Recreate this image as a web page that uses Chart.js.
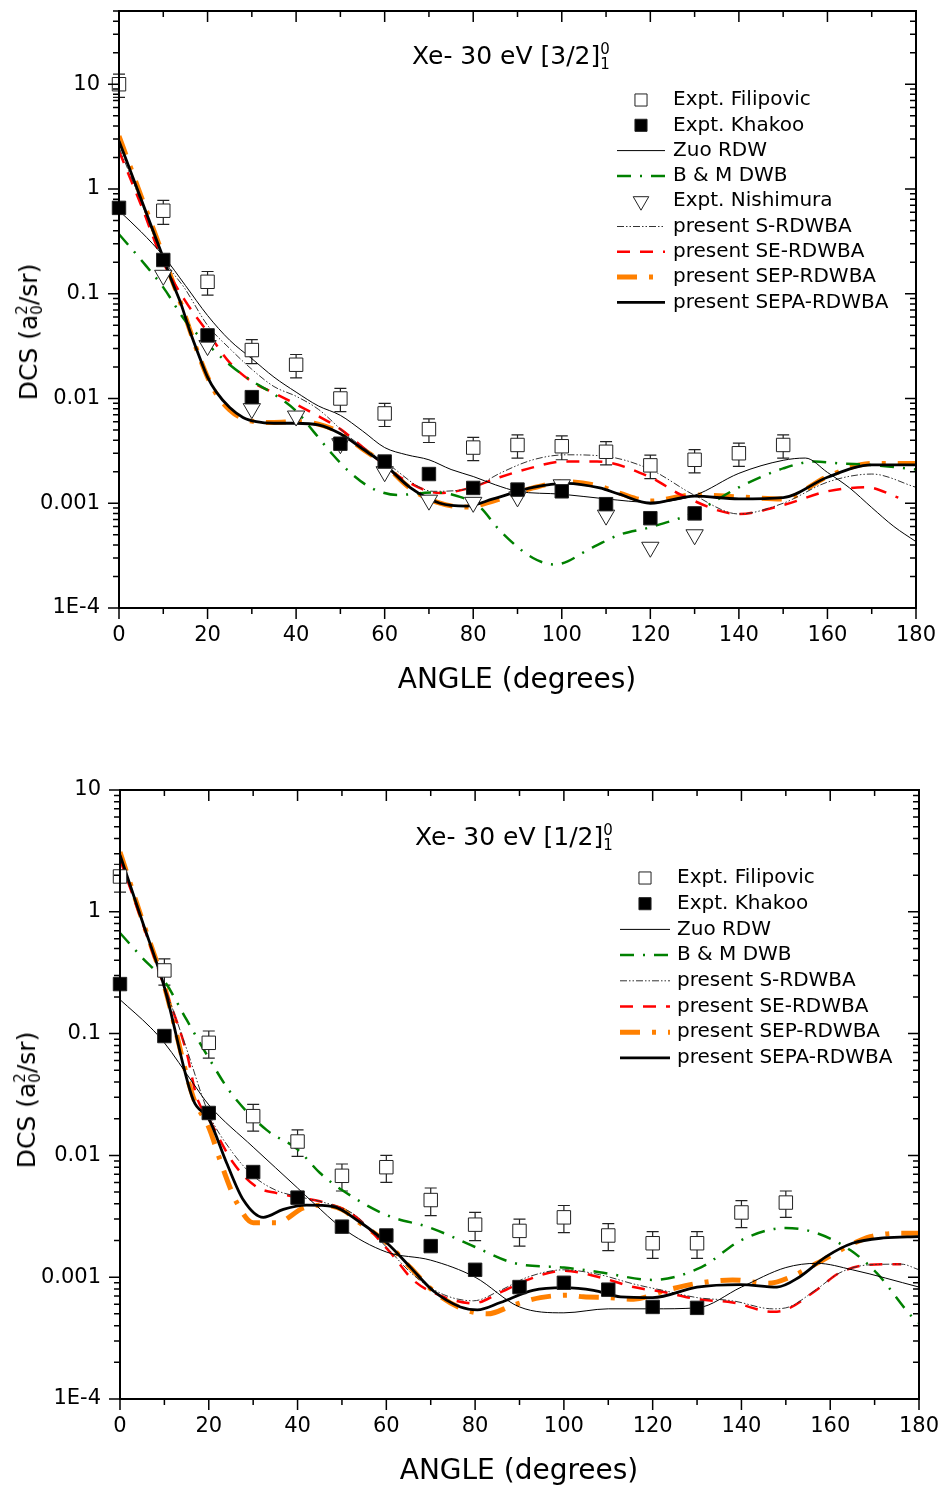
<!DOCTYPE html>
<html>
<head>
<meta charset="utf-8">
<script src="https://cdn.jsdelivr.net/npm/chart.js@4.4.1/dist/chart.umd.min.js"></script>
<style>
body { margin:0; background:#fff; width:940px; height:1487px; position:relative; overflow:hidden; font-family:"DejaVu Sans", sans-serif; color:#000; }
canvas { position:absolute; left:0; }
.lbl { position:absolute; white-space:nowrap; line-height:1; }
.ttl { font-size:25px; }
.xt { font-size:28px; transform:translateX(-50%); }
.yt { font-size:25px; transform:translate(-50%,-50%) rotate(-90deg); }
.ss { display:inline-flex; flex-direction:column; font-size:15px; line-height:1; vertical-align:middle; }
</style>
</head>
<body>
<canvas id="topChart" width="940" height="700" style="top:0"></canvas>
<canvas id="botChart" width="940" height="787" style="top:700px"></canvas>

<div class="lbl ttl" style="left:412px;top:42px">Xe- 30 eV [3/2]<span class="ss"><span>0</span><span>1</span></span></div>
<div class="lbl ttl" style="left:415px;top:823px">Xe- 30 eV [1/2]<span class="ss"><span>0</span><span>1</span></span></div>
<div class="lbl xt" style="left:517px;top:665px">ANGLE (degrees)</div>
<div class="lbl xt" style="left:519px;top:1456px">ANGLE (degrees)</div>
<div class="lbl yt" style="left:30px;top:332px">DCS (a<span class="ss"><span>2</span><span>0</span></span>/sr)</div>
<div class="lbl yt" style="left:28px;top:1100px">DCS (a<span class="ss"><span>2</span><span>0</span></span>/sr)</div>

<script>
// axis ticks
const xTickVals = [0, 20, 40, 60, 80, 100, 120, 140, 160, 180];
const yTickVals = [1e-4, 1e-3, 1e-2, 1e-1, 1, 10];
const yTickLabels = ['1E-4', '0.001', '0.01', '0.1', '1', '10'];

// ---------- top panel: [3/2]1 ----------
const expAngles = [0, 10, 20, 30, 40, 50, 60, 70, 80, 90, 100, 110, 120, 130, 140, 150];
const topFilVal = [10, 0.62, 0.13, 0.029, 0.021, 0.010, 0.0072, 0.0051, 0.0034, 0.0036, 0.0035, 0.0031, 0.0023, 0.0026, 0.0030, 0.0036];
const topFilErr = [2.5, 0.16, 0.033, 0.0075, 0.0053, 0.0025, 0.0018, 0.0013, 0.00085, 0.0009, 0.0009, 0.00078, 0.00058, 0.00065, 0.00075, 0.0009];

const topKhaAng = [0, 10, 20, 30, 50, 60, 70, 80, 90, 100, 110, 120, 130];
const topKhaVal = [0.66, 0.21, 0.040, 0.0103, 0.0037, 0.0025, 0.0019, 0.0014, 0.00135, 0.0013, 0.00098, 0.00072, 0.0008];

const topNisAng = [10, 20, 30, 40, 50, 60, 70, 80, 90, 100, 110, 120, 130];
const topNisVal = [0.15, 0.032, 0.008, 0.0068, 0.0037, 0.002, 0.00107, 0.00102, 0.00115, 0.0015, 0.00077, 0.00038, 0.0005];

const topZuoAng = [0, 5, 10, 15, 20, 25, 30, 35, 40, 45, 50, 55, 60, 65, 70, 75, 80, 85, 90, 100, 110, 120, 130, 140, 150, 155, 160, 165, 170, 175, 180];
const topZuoVal = [0.62, 0.39, 0.23, 0.12, 0.062, 0.036, 0.024, 0.016, 0.0115, 0.0085, 0.0069, 0.0049, 0.0034, 0.0029, 0.0026, 0.0021, 0.0018, 0.0015, 0.0013, 0.00122, 0.0011, 0.00102, 0.00119, 0.00193, 0.00257, 0.0027, 0.00197, 0.0014, 0.00091, 0.0006, 0.00043];

const topDwbAng = [0, 5, 10, 15, 20, 25, 30, 35, 40, 44, 48, 52, 57, 63, 71, 77, 81.5, 86, 93.5, 98.5, 107, 113, 120, 130, 140, 150, 157, 163, 170, 180];
const topDwbVal = [0.37, 0.21, 0.115, 0.055, 0.033, 0.021, 0.0147, 0.011, 0.0076, 0.0048, 0.003, 0.002, 0.0014, 0.0012, 0.00127, 0.00115, 0.00092, 0.00055, 0.0003, 0.00026, 0.00038, 0.0005, 0.00059, 0.00082, 0.00142, 0.00215, 0.0025, 0.0024, 0.00232, 0.0021];

const topSAng = [0, 5, 10, 15, 20, 25, 30, 35, 40, 45, 52, 60.5, 71, 80, 86, 93.5, 101, 110, 120, 130, 140, 150, 160, 170, 180];
const topSVal = [2.5, 0.75, 0.22, 0.11, 0.05, 0.03, 0.019, 0.013, 0.0105, 0.0079, 0.0043, 0.0024, 0.0013, 0.00142, 0.00193, 0.0026, 0.0029, 0.0028, 0.0021, 0.00119, 0.00079, 0.001, 0.00159, 0.0019, 0.00142];

const topSeAng = [0, 5, 10, 15, 20, 25, 30, 35, 40, 45, 50, 56.7, 63.5, 72.5, 79, 86, 93.5, 100, 108, 120, 127, 140, 150, 160, 169, 176];
const topSeVal = [2.3, 0.7, 0.2, 0.085, 0.043, 0.022, 0.0145, 0.0113, 0.0088, 0.0068, 0.0051, 0.003, 0.00177, 0.00125, 0.00139, 0.00177, 0.0022, 0.0025, 0.0025, 0.00177, 0.0012, 0.00079, 0.00096, 0.0013, 0.00142, 0.00113];

const topSepaAng = [0, 5, 10, 12, 14, 16, 18, 20, 22, 25, 28, 31, 35, 40, 45, 50, 55, 59.7, 65.7, 72.5, 78.5, 84.5, 93.5, 101, 108.6, 113, 120, 130, 140, 150, 160, 170, 180];
const topSepaVal = [2.87, 0.8, 0.22, 0.13, 0.08, 0.044, 0.026, 0.016, 0.0115, 0.0082, 0.0066, 0.006, 0.0058, 0.0058, 0.0056, 0.0046, 0.0033, 0.0024, 0.00142, 0.001, 0.00094, 0.0011, 0.00142, 0.00155, 0.0014, 0.00122, 0.001, 0.00117, 0.0011, 0.00113, 0.00177, 0.00232, 0.00232];

const topSepAng = [0, 5, 10, 12, 14, 16, 18, 20, 22, 25, 28, 31, 35, 40, 45, 50, 55, 59.7, 65.7, 72.5, 78.5, 84.5, 93.5, 101, 108.6, 113, 120, 130, 140, 150, 160, 170, 180];
const topSepVal = [3.2, 0.85, 0.23, 0.135, 0.08, 0.045, 0.026, 0.016, 0.011, 0.0078, 0.0064, 0.006, 0.0059, 0.006, 0.0057, 0.0047, 0.0033, 0.0024, 0.0014, 0.001, 0.00092, 0.00105, 0.0014, 0.0016, 0.00145, 0.00125, 0.00105, 0.0012, 0.00115, 0.0011, 0.0018, 0.0024, 0.0024];

// ---------- bottom panel: [1/2]1 ----------
const botFilVal = [1.95, 0.33, 0.084, 0.021, 0.013, 0.0068, 0.0080, 0.0043, 0.0027, 0.0024, 0.0031, 0.0022, 0.0019, 0.0019, 0.0034, 0.0041];
const botFilErr = [0.5, 0.08, 0.021, 0.0052, 0.0032, 0.0017, 0.002, 0.0011, 0.0007, 0.0006, 0.00078, 0.00055, 0.00047, 0.00047, 0.00085, 0.001];

const botKhaAng = [0, 10, 20, 30, 40, 50, 60, 70, 80, 90, 100, 110, 120, 130];
const botKhaVal = [0.255, 0.0955, 0.0223, 0.0073, 0.0045, 0.0026, 0.0022, 0.0018, 0.00115, 0.00083, 0.0009, 0.00079, 0.00057, 0.00056];

const botZuoAng = [0, 6.8, 10, 16.5, 20, 30, 40, 43.5, 50, 60, 70, 80, 90, 100, 110, 120, 130, 140, 150, 157, 165, 180];
const botZuoVal = [0.19, 0.113, 0.084, 0.039, 0.026, 0.0117, 0.0054, 0.0041, 0.00254, 0.00161, 0.00138, 0.001, 0.00057, 0.00051, 0.00055, 0.00055, 0.00056, 0.00083, 0.0012, 0.0013, 0.00115, 0.00083];

const botDwbAng = [0, 5, 10, 15, 20, 25, 33, 40, 45, 50, 60, 70, 80, 89, 100, 108, 120, 131, 140, 150, 157, 164.5, 170.5, 178.5, 180];
const botDwbVal = [0.67, 0.42, 0.27, 0.13, 0.063, 0.0325, 0.0162, 0.0112, 0.0072, 0.0052, 0.00324, 0.00254, 0.00177, 0.0013, 0.0012, 0.0011, 0.00095, 0.00121, 0.00202, 0.00254, 0.0023, 0.00167, 0.00108, 0.00047, 0.00042];

const botSAng = [0, 5, 10, 15, 20, 25, 30, 35, 40, 45, 52.6, 60, 66, 72.9, 79.6, 85.7, 91.8, 100, 108, 115.7, 123, 130, 138, 147, 150, 157, 162, 168.4, 176, 180];
const botSVal = [2.8, 0.85, 0.25, 0.075, 0.022, 0.011, 0.0068, 0.0052, 0.0046, 0.0042, 0.0033, 0.00177, 0.00105, 0.00072, 0.00064, 0.00078, 0.001, 0.00115, 0.00105, 0.00088, 0.00077, 0.00068, 0.00064, 0.00055, 0.00056, 0.0008, 0.00108, 0.00126, 0.00128, 0.00115];

const botSeAng = [0, 5, 10, 15, 17.3, 20, 25.5, 30.8, 35.3, 40.5, 45, 52.6, 61, 66, 72.9, 79.6, 85.7, 91.8, 100, 108, 115.7, 123, 130, 138, 147, 150, 157, 162, 168.4, 176];
const botSeVal = [2.7, 0.82, 0.24, 0.07, 0.03, 0.02, 0.0087, 0.0055, 0.0049, 0.0045, 0.0042, 0.00324, 0.00158, 0.00095, 0.00069, 0.00061, 0.00075, 0.00095, 0.00113, 0.001, 0.00083, 0.00075, 0.00066, 0.00062, 0.00052, 0.00054, 0.00079, 0.00108, 0.00126, 0.00128];

const botSepaAng = [0, 5, 10, 16.5, 20, 24, 27.8, 32.3, 36.8, 42, 48, 54, 60.2, 65.4, 70.6, 76.7, 80.5, 85.7, 93, 100, 106.7, 112.8, 120, 130, 139.8, 148, 153, 159, 165, 172, 180];
const botSepaVal = [2.93, 0.84, 0.24, 0.0285, 0.02, 0.0087, 0.0043, 0.0031, 0.0036, 0.0039, 0.0038, 0.00284, 0.0019, 0.00121, 0.00077, 0.00057, 0.00054, 0.00062, 0.00078, 0.00082, 0.00078, 0.00069, 0.00068, 0.00083, 0.00087, 0.00083, 0.001, 0.00147, 0.0019, 0.0021, 0.00215];

const botSepAng = [0, 5, 10, 16.5, 20, 23.3, 26.3, 30, 35.3, 41.3, 45, 50, 54, 60.2, 65.4, 70.6, 76.7, 82.8, 88.6, 94.7, 100.8, 104.4, 110, 115.7, 123, 130, 138, 146, 151, 157, 164, 169, 176.7, 180];
const botSepVal = [3.1, 0.86, 0.245, 0.03, 0.017, 0.0076, 0.0041, 0.0028, 0.0028, 0.0037, 0.0039, 0.0036, 0.0028, 0.0019, 0.0012, 0.00077, 0.00056, 0.0005, 0.00059, 0.00068, 0.00071, 0.00069, 0.00068, 0.00066, 0.00078, 0.00089, 0.00095, 0.00089, 0.001, 0.0013, 0.0018, 0.00215, 0.0023, 0.0023];


function pts(a, v) {
    return a.map((d, i) => ({ x: d, y: v[i] }));
}

function curve(label, a, v, color, width, dash, order) {
    return {
        label: label,
        data: pts(a, v),
        borderColor: color,
        backgroundColor: color,
        borderWidth: width,
        borderDash: dash,
        borderCapStyle: 'butt',
        pointRadius: 0,
        pointHoverRadius: 0,
        fill: false,
        cubicInterpolationMode: 'monotone',
        order: order
    };
}

function marks(label, a, v, style, fillColor, radius, rotation, errors) {
    return {
        label: label,
        data: pts(a, v),
        showLine: false,
        pointStyle: style,
        pointRadius: radius,
        pointRotation: rotation,
        pointBackgroundColor: fillColor,
        pointBorderColor: '#222',
        pointBorderWidth: 1,
        backgroundColor: fillColor,
        borderColor: '#222',
        borderWidth: 1,
        errors: errors,
        clip: false,
        order: 0
    };
}

// error bars of the Filipovic points
const errorBars = {
    id: 'errorBars',
    beforeDatasetsDraw(chart) {
        const { ctx, scales: { x, y } } = chart;
        ctx.save();
        ctx.strokeStyle = '#222';
        ctx.lineWidth = 1.2;
        chart.data.datasets.forEach(ds => {
            if (!ds.errors) return;
            ds.data.forEach((p, i) => {
                const e = ds.errors[i];
                const px = x.getPixelForValue(p.x);
                const hi = y.getPixelForValue(p.y + e);
                const lo = y.getPixelForValue(p.y - e);
                ctx.beginPath();
                ctx.moveTo(px, hi); ctx.lineTo(px, lo);
                ctx.moveTo(px - 6, hi); ctx.lineTo(px + 6, hi);
                ctx.moveTo(px - 6, lo); ctx.lineTo(px + 6, lo);
                ctx.stroke();
            });
        });
        ctx.restore();
    }
};

// box frame with ticks: out on left/bottom, in on right/top
const frameTicks = {
    id: 'frameTicks',
    afterDatasetsDraw(chart) {
        const { ctx, chartArea: a, scales: { x, y } } = chart;
        ctx.save();
        ctx.strokeStyle = '#000';
        ctx.lineWidth = 2;
        ctx.strokeRect(a.left, a.top, a.right - a.left, a.bottom - a.top);
        ctx.lineWidth = 1.5;
        ctx.beginPath();
        for (let d = 0; d <= 180; d += 10) {
            const px = x.getPixelForValue(d);
            const len = d % 20 === 0 ? 11 : 6;
            ctx.moveTo(px, a.bottom); ctx.lineTo(px, a.bottom + len);
            ctx.moveTo(px, a.top); ctx.lineTo(px, a.top + len);
        }
        for (let k = -4; k <= 1; k++) {
            for (let m = 1; m <= 9; m++) {
                const v = m * Math.pow(10, k);
                if (v < y.min * 0.999 || v > y.max * 1.001) continue;
                const py = y.getPixelForValue(v);
                const len = m === 1 ? 11 : 6;
                ctx.moveTo(a.left, py); ctx.lineTo(a.left - len, py);
                ctx.moveTo(a.right, py); ctx.lineTo(a.right - len, py);
            }
        }
        ctx.stroke();
        ctx.restore();
    }
};

// legend inside the plot
const insideLegend = {
    id: 'insideLegend',
    afterDraw(chart, args, o) {
        const ctx = chart.ctx;
        ctx.save();
        ctx.font = o.font;
        ctx.textBaseline = 'middle';
        chart.data.datasets.forEach((ds, i) => {
            const yy = o.y + i * o.dy;
            const cx = (o.x0 + o.x1) / 2;
            if (ds.showLine === false) {
                ctx.fillStyle = ds.pointBackgroundColor;
                ctx.strokeStyle = ds.pointBorderColor;
                ctx.lineWidth = 1;
                ctx.setLineDash([]);
                Chart.helpers.drawPoint(ctx, {
                    pointStyle: ds.pointStyle,
                    radius: ds.pointRadius * 0.9,
                    rotation: ds.pointRotation || 0,
                    borderWidth: 1
                }, cx, yy);
            } else {
                ctx.strokeStyle = ds.borderColor;
                ctx.lineWidth = ds.borderWidth;
                ctx.lineCap = 'butt';
                ctx.setLineDash(ds.borderDash || []);
                ctx.beginPath();
                ctx.moveTo(o.x0, yy);
                ctx.lineTo(o.x1, yy);
                ctx.stroke();
            }
            ctx.setLineDash([]);
            ctx.fillStyle = '#000';
            ctx.fillText(ds.label, o.tx, yy);
        });
        ctx.restore();
    }
};

// the axis boxes are fixed; the labels may hang into the margins
function noPad(s) {
    s.paddingTop = 0;
    s.paddingBottom = 0;
    s.paddingLeft = 0;
    s.paddingRight = 0;
}

function makeChart(id, datasets, yMax, yWidth, xHeight, pad, legend) {
    const ctx = document.getElementById(id).getContext('2d');
    return new Chart(ctx, {
        type: 'line',
        data: { datasets: datasets },
        plugins: [errorBars, frameTicks, insideLegend],
        options: {
            responsive: false,
            animation: false,
            devicePixelRatio: 1,
            layout: { padding: pad },
            plugins: {
                legend: { display: false },
                tooltip: { enabled: false },
                insideLegend: legend
            },
            scales: {
                x: {
                    type: 'linear',
                    min: 0,
                    max: 180,
                    grid: { display: false, drawTicks: false },
                    border: { display: false },
                    afterBuildTicks: s => { s.ticks = xTickVals.map(v => ({ value: v })); },
                    afterFit: s => { s.height = xHeight; noPad(s); },
                    ticks: {
                        color: '#000',
                        font: { family: 'DejaVu Sans', size: 21 },
                        padding: 15,
                        autoSkip: false,
                        maxRotation: 0
                    }
                },
                y: {
                    type: 'logarithmic',
                    min: 1e-4,
                    max: yMax,
                    grid: { display: false, drawTicks: false },
                    border: { display: false },
                    afterBuildTicks: s => { s.ticks = yTickVals.map(v => ({ value: v })); },
                    afterFit: s => { s.width = yWidth; noPad(s); },
                    ticks: {
                        color: '#000',
                        font: { family: 'DejaVu Sans', size: 21 },
                        padding: 19,
                        autoSkip: false,
                        callback: v => {
                            const i = yTickVals.findIndex(t => Math.abs(t - v) / t < 1e-6);
                            return i >= 0 ? yTickLabels[i] : '';
                        }
                    }
                }
            }
        }
    });
}

const topSets = [
    marks('Expt. Filipovic', expAngles, topFilVal, 'rect', '#fff', 9.5, 0, topFilErr),
    marks('Expt. Khakoo', topKhaAng, topKhaVal, 'rect', '#000', 9.5, 0),
    curve('Zuo RDW', topZuoAng, topZuoVal, '#000', 1, [], 2),
    curve('B & M DWB', topDwbAng, topDwbVal, '#008000', 2.5, [14, 9, 2, 9], 2),
    marks('Expt. Nishimura', topNisAng, topNisVal, 'triangle', '#fff', 10, 180),
    curve('present S-RDWBA', topSAng, topSVal, '#333', 1, [7, 2, 1.5, 2, 1.5, 2], 2),
    curve('present SE-RDWBA', topSeAng, topSeVal, '#ff0000', 2.5, [13, 10], 2),
    curve('present SEP-RDWBA', topSepAng, topSepVal, '#ff8000', 5, [20, 12, 4, 12], 3),
    curve('present SEPA-RDWBA', topSepaAng, topSepaVal, '#000', 2.8, [], 1)
];

const botSets = [
    marks('Expt. Filipovic', expAngles, botFilVal, 'rect', '#fff', 9.5, 0, botFilErr),
    marks('Expt. Khakoo', botKhaAng, botKhaVal, 'rect', '#000', 9.5, 0),
    curve('Zuo RDW', botZuoAng, botZuoVal, '#000', 1, [], 2),
    curve('B & M DWB', botDwbAng, botDwbVal, '#008000', 2.5, [14, 9, 2, 9], 2),
    curve('present S-RDWBA', botSAng, botSVal, '#333', 1, [7, 2, 1.5, 2, 1.5, 2], 2),
    curve('present SE-RDWBA', botSeAng, botSeVal, '#ff0000', 2.5, [13, 10], 2),
    curve('present SEP-RDWBA', botSepAng, botSepVal, '#ff8000', 5, [20, 12, 4, 12], 3),
    curve('present SEPA-RDWBA', botSepaAng, botSepaVal, '#000', 2.8, [], 1)
];

makeChart('topChart', topSets, 50, 119, 92, { top: 10, right: 24, left: 0, bottom: 0 },
    { x0: 617, x1: 665, tx: 673, y: 100, dy: 25.3, font: '20px "DejaVu Sans"' });

makeChart('botChart', botSets, 10, 120, 88, { top: 90, right: 21, left: 0, bottom: 0 },
    { x0: 620, x1: 670, tx: 677, y: 178, dy: 25.7, font: '20px "DejaVu Sans"' });
</script>
</body>
</html>
